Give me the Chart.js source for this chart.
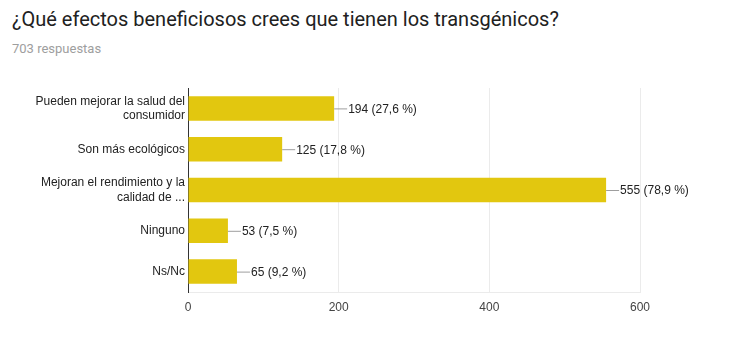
<!DOCTYPE html>
<html lang="es">
<head>
<meta charset="UTF-8">
<script src="https://cdn.jsdelivr.net/npm/chart.js"></script>
<title>Efectos beneficiosos</title>
<style>
    body {
        margin: 0;
        background: #fff;
        font-family: 'Liberation Sans', Arial, sans-serif;
    }
    #title {
        position: absolute;
        left: 12px;
        top: 7px;
        font-family: Roboto, sans-serif;
        font-size: 20px;
        color: #212121;
    }
    #sub {
        position: absolute;
        left: 12px;
        top: 41px;
        font-family: Roboto, sans-serif;
        font-size: 13px;
        color: #9e9e9e;
    }
    .chart-container {
        position: absolute;
        left: 0;
        top: 0;
        width: 745px;
        height: 337px;
    }
</style>
</head>
<body>
<div id="title">¿Qué efectos beneficiosos crees que tienen los transgénicos?</div>
<div id="sub">703 respuestas</div>
<div class="chart-container"><canvas id="chart"></canvas></div>
<script>
    const categories = [
        ["Pueden mejorar la salud del", "consumidor"],
        "Son más ecológicos",
        ["Mejoran el rendimiento y la", "calidad de ..."],
        "Ninguno",
        "Ns/Nc"
    ];
    const counts = [194, 125, 555, 53, 65];
    const percents = ["27,6", "17,8", "78,9", "7,5", "9,2"];
    const xTicks = [0, 200, 400, 600];

    // draws the "—194 (27,6 %)" labels next to each bar
    const barLabels = {
        id: "barLabels",
        afterDatasetsDraw(chart) {
            const ctx = chart.ctx;
            const meta = chart.getDatasetMeta(0);
            ctx.save();
            ctx.font = "12px 'Liberation Sans', Arial, sans-serif";
            ctx.textBaseline = "middle";
            meta.data.forEach((bar, i) => {
                const x = bar.x;
                const y = bar.y;
                ctx.strokeStyle = "#9e9e9e";
                ctx.lineWidth = 1;
                ctx.beginPath();
                ctx.moveTo(x, y + 0.5);
                ctx.lineTo(x + 13, y + 0.5);
                ctx.stroke();
                ctx.fillStyle = "#222";
                ctx.fillText(counts[i] + " (" + percents[i] + " %)", x + 14, y + 1);
            });
            ctx.restore();
        }
    };

    new Chart(document.getElementById("chart"), {
        type: "bar",
        data: {
            labels: categories,
            datasets: [{
                data: counts,
                backgroundColor: "#e2c70f",
                barPercentage: 0.6,
                categoryPercentage: 1
            }]
        },
        options: {
            indexAxis: "y",
            responsive: true,
            maintainAspectRatio: false,
            animation: false,
            layout: {padding: {left: 0, right: 105, top: 88, bottom: 20}},
            plugins: {legend: {display: false}, tooltip: {enabled: false}},
            scales: {
                x: {
                    min: 0,
                    max: 600,
                    afterFit: (scale) => { scale.height = 25; },
                    afterBuildTicks: (scale) => {
                        scale.ticks = xTicks.map(v => ({value: v}));
                    },
                    grid: {
                        stepSize: 100,
                        color: "#ebebeb",
                        drawTicks: false
                    },
                    border: {display: true, color: "#ebebeb"},
                    ticks: {
                        stepSize: 100,
                        color: "#444",
                        padding: 8,
                        font: {family: "'Liberation Sans', Arial, sans-serif", size: 12}
                    }
                },
                y: {
                    afterFit: (scale) => { scale.width = 188; },
                    grid: {display: false, drawTicks: false},
                    border: {display: true, color: "#333", width: 1},
                    ticks: {
                        color: "#222",
                        padding: 3,
                        font: {family: "'Liberation Sans', Arial, sans-serif", size: 12, lineHeight: 1.2}
                    }
                }
            }
        },
        plugins: [barLabels]
    });
</script>
</body>
</html>
